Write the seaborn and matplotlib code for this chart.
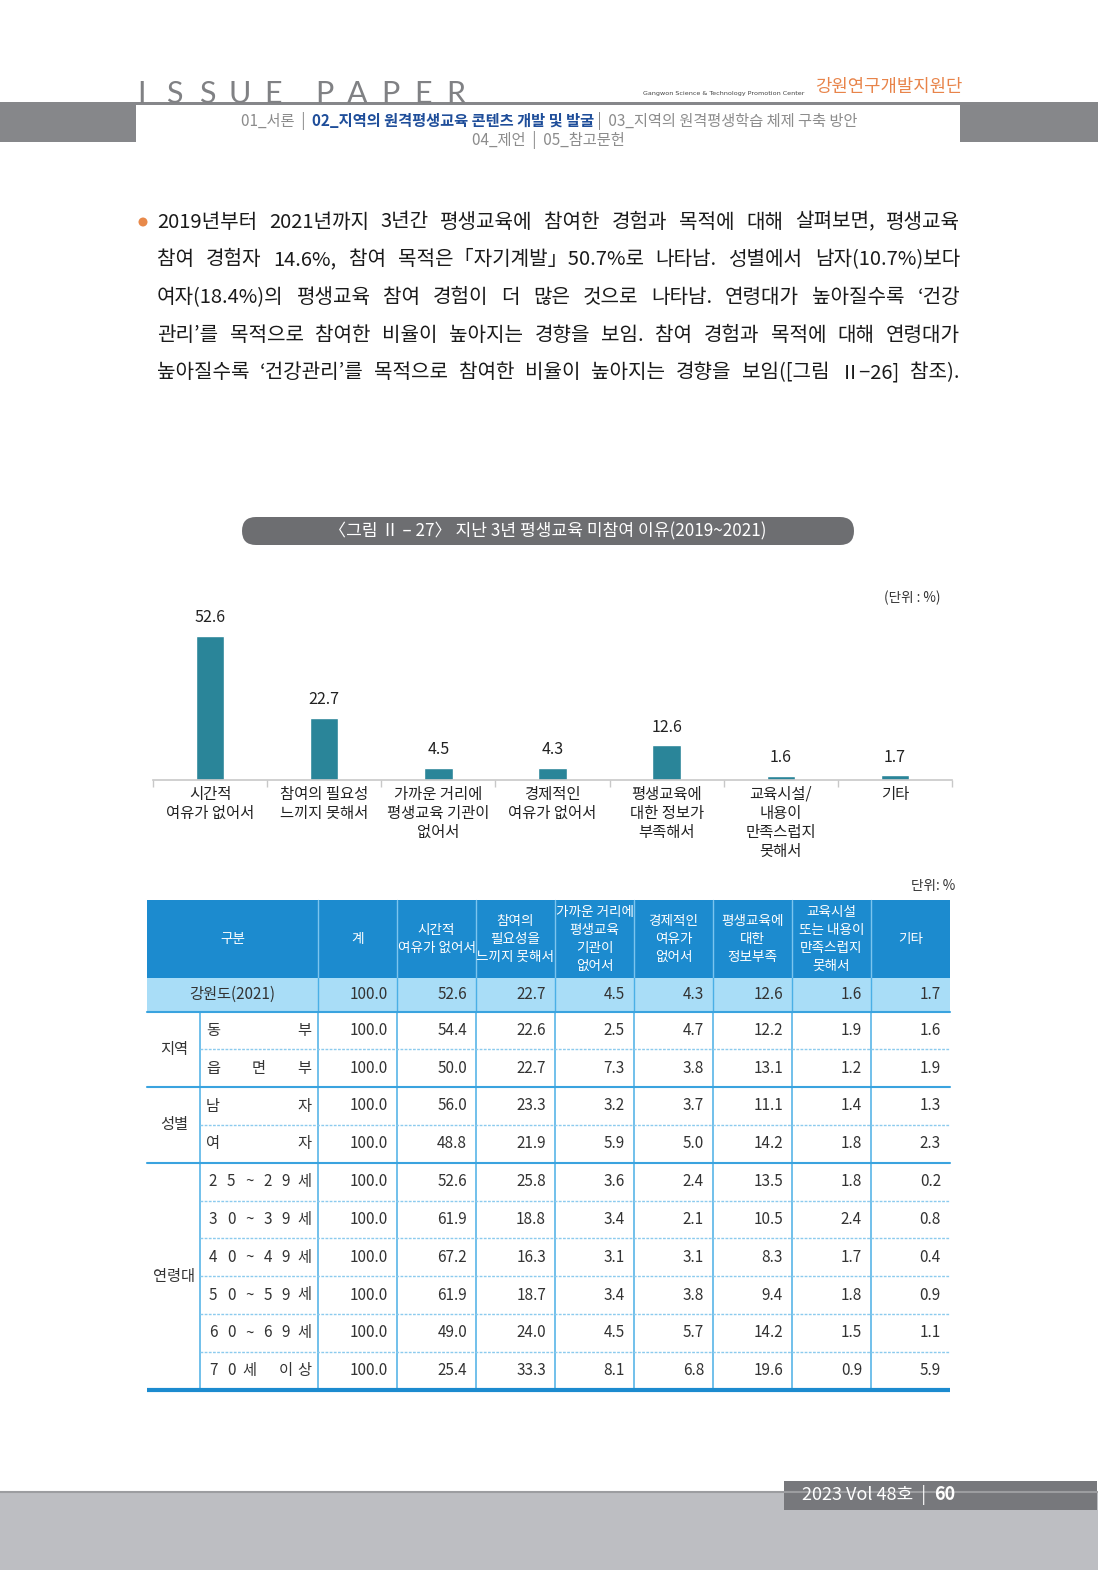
import numpy as np
import pandas as pd
import seaborn as sns
import matplotlib.pyplot as plt
from matplotlib.patches import Rectangle, FancyBboxPatch, Circle

sns.set_theme(style='white')
plt.rcParams['font.family'] = ['Noto Sans CJK KR', 'DejaVu Sans']

# Данные столбчатой диаграммы
reasons = ['시간적\n여유가 없어서', '참여의 필요성\n느끼지 못해서', '가까운 거리에\n평생교육 기관이\n없어서',
           '경제적인\n여유가 없어서', '평생교육에\n대한 정보가\n부족해서', '교육시설/\n내용이\n만족스럽지\n못해서', '기타']
shares = [52.6, 22.7, 4.5, 4.3, 12.6, 1.6, 1.7]

# Данные таблицы
col_headers = ['구분', '계', '시간적\n여유가 없어서', '참여의\n필요성을\n느끼지 못해서', '가까운 거리에\n평생교육\n기관이\n없어서',
               '경제적인\n여유가\n없어서', '평생교육에\n대한\n정보부족', '교육시설\n또는 내용이\n만족스럽지\n못해서', '기타']
total_label = '강원도(2021)'
total_row = [100.0, 52.6, 22.7, 4.5, 4.3, 12.6, 1.6, 1.7]
row_groups = ['지역', '성별', '연령대']
group_sizes = [2, 2, 6]
row_labels = ['동부', '읍면부', '남자', '여자', '25~29세', '30~39세', '40~49세', '50~59세', '60~69세', '70세 이상']
total_col = [100.0, 100.0, 100.0, 100.0, 100.0, 100.0, 100.0, 100.0, 100.0, 100.0]
time_short = [54.4, 50.0, 56.0, 48.8, 52.6, 61.9, 67.2, 61.9, 49.0, 25.4]
no_need = [22.6, 22.7, 23.3, 21.9, 25.8, 18.8, 16.3, 18.7, 24.0, 33.3]
no_facility = [2.5, 7.3, 3.2, 5.9, 3.6, 3.4, 3.1, 3.4, 4.5, 8.1]
money_short = [4.7, 3.8, 3.7, 5.0, 2.4, 2.1, 3.1, 3.8, 5.7, 6.8]
no_info = [12.2, 13.1, 11.1, 14.2, 13.5, 10.5, 8.3, 9.4, 14.2, 19.6]
unsatisfied = [1.9, 1.2, 1.4, 1.8, 1.8, 2.4, 1.7, 1.8, 1.5, 0.9]
other = [1.6, 1.9, 1.3, 2.3, 0.2, 0.8, 0.4, 0.9, 1.1, 5.9]

body_text = [
    '2019년부터 2021년까지 3년간 평생교육에 참여한 경험과 목적에 대해 살펴보면, 평생교육',
    '참여 경험자 14.6%,  참여 목적은「자기계발」50.7%로 나타남. 성별에서 남자(10.7%)보다',
    '여자(18.4%)의 평생교육 참여 경험이 더 많은 것으로 나타남. 연령대가 높아질수록 ‘건강',
    '관리’를 목적으로 참여한 비율이 높아지는 경향을 보임. 참여 경험과 목적에 대해 연령대가',
    '높아질수록 ‘건강관리’를 목적으로 참여한 비율이 높아지는 경향을 보임([그림 Ⅱ−26] 참조).',
]

W, H = 1098, 1570
fig = plt.figure(figsize=(W / 100, H / 100), dpi=100)
page = fig.add_axes([0, 0, 1, 1])
page.set_xlim(0, W)
page.set_ylim(H, 0)
page.axis('off')
renderer = fig.canvas.get_renderer()

def width_of(t):
    return t.get_window_extent(renderer).width

# Шапка страницы
page.add_patch(Rectangle((0, 103), 136, 39, color='#86878a', lw=0))
page.add_patch(Rectangle((960, 103), 138, 39, color='#86878a', lw=0))
page.add_patch(Rectangle((0, 102), W, 3, color='#86878a', lw=0))
for word, x0 in [('ISSUE', 141), ('PAPER', 324)]:
    for i, ch in enumerate(word):
        page.text(x0 + i * 33, 103, ch, fontsize=22, color='#808184', ha='center', va='baseline',
                  family=['Lato', 'DejaVu Sans'])
page.text(643, 93, 'Gangwon Science & Technology Promotion Center', fontsize=4.6, color='#444',
          ha='left', va='center', family=['DejaVu Sans'])
page.text(815, 87, '강원연구개발지원단', fontsize=12.8, color='#e8844a', ha='left', va='center')

nav = [('01_서론  |  ', '#8c8c8c', 'normal'), ('02_지역의 원격평생교육 콘텐츠 개발 및 발굴', '#1f4e9a', 'bold'),
       (' |  03_지역의 원격평생학습 체제 구축 방안', '#8c8c8c', 'normal')]
x = 241
for s, c, wgt in nav:
    t = page.text(x, 121, s, fontsize=11, color=c, fontweight=wgt, ha='left', va='center')
    x += width_of(t)
page.text(548, 140, '04_제언  |  05_참고문헌', fontsize=11, color='#8c8c8c', ha='center', va='center')

# Текст абзаца с выравниванием по ширине
page.add_patch(Circle((143, 222), 4.5, color='#e8894a', lw=0))
for k, line in enumerate(body_text):
    y = 222 + k * 37.7
    words = [w for w in line.split(' ') if w]
    texts = [page.text(0, y, w, fontsize=14.5, color='#1a1a1a', ha='left', va='center') for w in words]
    widths = [width_of(t) for t in texts]
    gap = (960 - 157 - sum(widths)) / (len(words) - 1)
    x = 157
    for t, w in zip(texts, widths):
        t.set_x(x)
        x += w + gap

# Заголовок рисунка
page.add_patch(FancyBboxPatch((242, 517), 612, 28, boxstyle='round,pad=0,rounding_size=14',
                              color='#6d6e71', lw=0))
page.text(548, 531, '〈그림 Ⅱ – 27〉 지난 3년 평생교육 미참여 이유(2019~2021)', fontsize=12.3,
          color='white', ha='center', va='center')
page.text(941, 598, '(단위 : %)', fontsize=9.8, color='#333', ha='right', va='center')

# Столбчатая диаграмма
ax = fig.add_axes([153 / W, (H - 780) / H, 799 / W, 164.4 / H])
df = pd.DataFrame({'reason': reasons, 'share': shares})
sns.barplot(data=df, x='reason', y='share', ax=ax, color='#2a8599', width=0.25, saturation=1)
for i, v in enumerate(df['share']):
    ax.annotate(f'{v:.1f}', (i, v), xytext=(0, 7), textcoords='offset points',
                ha='center', va='bottom', fontsize=11.5, color='#222')
ax.set_xlim(-0.5, 6.5)
ax.set_ylim(0, 60)
ax.set_yticks([])
ax.set_xlabel('')
ax.set_ylabel('')
ax.set_xticks(range(len(reasons)))
ax.set_xticklabels(reasons, fontsize=11.1, linespacing=1.17, color='#222')
ax.set_xticks(np.arange(-0.5, 7, 1), minor=True)
ax.tick_params(axis='x', which='major', length=0, pad=4)
ax.tick_params(axis='x', which='minor', bottom=True, length=5, width=1, color='#c8c8c8')
for s in ['left', 'top', 'right']:
    ax.spines[s].set_visible(False)
ax.spines['bottom'].set_color('#c8c8c8')
ax.spines['bottom'].set_linewidth(1.2)
ax.patch.set_alpha(0)

# Таблица
page.text(955, 886, '단위: %', fontsize=9.8, color='#333', ha='right', va='center')
edges = [147, 318, 397, 476, 555, 634, 713, 792, 871, 950]
head_top, head_bot = 900, 978
tot_bot = 1011.5
row_h = 37.8
blue = '#1c8bcf'
line_blue = '#4aafe6'

page.add_patch(Rectangle((147, head_top), 803, head_bot - head_top, color=blue, lw=0))
page.add_patch(Rectangle((147, head_bot), 803, tot_bot - head_bot, color='#a9ddf7', lw=0))
for j, h in enumerate(col_headers):
    cx = (edges[j] + edges[j + 1]) / 2
    page.text(cx, (head_top + head_bot) / 2, h, fontsize=9.8, color='white', ha='center', va='center',
              linespacing=1.36, fontweight='medium')
for xe in edges[1:-1]:
    page.plot([xe, xe], [head_top, head_bot], color='#7cc4ee', lw=1)
    page.plot([xe, xe], [head_bot, tot_bot], color=line_blue, lw=1)

page.text(232, (head_bot + tot_bot) / 2, total_label, fontsize=11, color='#333', ha='center', va='center')
for j, v in enumerate(total_row):
    page.text(edges[j + 2] - 9, (head_bot + tot_bot) / 2, f'{v:.1f}', fontsize=11, color='#333',
              ha='right', va='center')

columns = [total_col, time_short, no_need, no_facility, money_short, no_info, unsatisfied, other]
n_rows = len(row_labels)
body_bot = tot_bot + n_rows * row_h

# вертикальные линии тела таблицы
for xe in [200] + edges[1:-1]:
    page.plot([xe, xe], [tot_bot, body_bot], color=line_blue, lw=1.1)

group_starts = np.cumsum([0] + group_sizes[:-1])
for i in range(n_rows):
    y0 = tot_bot + i * row_h
    yc = y0 + row_h / 2
    chars = list(row_labels[i])
    pos = np.linspace(213, 304, len(chars))
    for ch, px in zip(chars, pos):
        page.text(px, yc, ch, fontsize=11, color='#333', ha='center', va='center')
    for j, col in enumerate(columns):
        page.text(edges[j + 2] - 9, yc, f'{col[i]:.1f}', fontsize=11, color='#333', ha='right', va='center')
    if i in group_starts:
        page.plot([147, 950], [y0, y0], color='#3aa3df', lw=1.5)
    else:
        page.plot([200, 950], [y0, y0], color='#8ccbee', lw=1, ls=(0, (2, 1)))

for g, start, size in zip(row_groups, group_starts, group_sizes):
    yc = tot_bot + (start + size / 2) * row_h
    page.text(174, yc, g, fontsize=11, color='#333', ha='center', va='center')
page.plot([147, 950], [body_bot, body_bot], color=blue, lw=3, solid_capstyle='butt')

# Подвал
page.add_patch(Rectangle((0, 1492), W, 78, color='#bdbec2', lw=0))
page.plot([0, W], [1492, 1492], color='#9c9da0', lw=1.5)
page.add_patch(Rectangle((784, 1481), 313, 29, color='#77787c', lw=0))
t = page.text(802, 1495, '2023 Vol 48호  |  ', fontsize=13, color='white', ha='left', va='center')
page.text(802 + width_of(t), 1495, '60', fontsize=13, color='white', fontweight='bold', ha='left', va='center')

fig.savefig('out.png', dpi=100)
